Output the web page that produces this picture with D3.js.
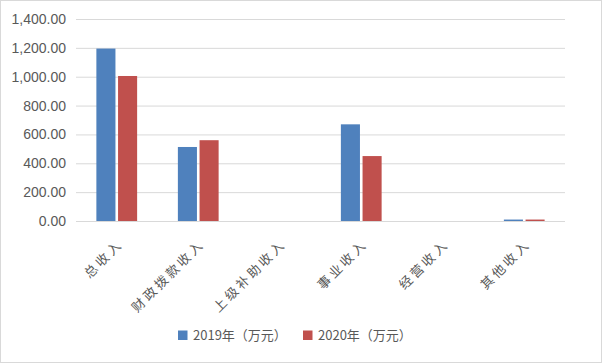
<!DOCTYPE html>
<html>
<head>
<meta charset="utf-8">
<script src="https://cdn.jsdelivr.net/npm/d3@7"></script>
<style>
  body { margin: 0; background: #fff; }
  svg { display: block; font-family: "Noto Sans CJK SC", "Microsoft YaHei", sans-serif; }
</style>
</head>
<body>
<div id="chart"></div>
<script>
const categories = ["总收入", "财政拨款收入", "上级补助收入", "事业收入", "经营收入", "其他收入"];
const seriesNames = ["2019年（万元）", "2020年（万元）"];
const values2019 = [1195, 513, 0, 670, 0, 10];
const values2020 = [1005, 560, 0, 450, 0, 10];
const yTicks = [0, 200, 400, 600, 800, 1000, 1200, 1400];

const width = 602, height = 363;
const margin = { left: 76, right: 37, top: 19, bottom: 142 };
const colors = ["#4f81bd", "#c0504d"];
const textColor = "#595959";

const svg = d3.select("#chart").append("svg")
    .attr("width", width)
    .attr("height", height);

// outer frame
svg.append("rect")
    .attr("x", 0.5).attr("y", 0.5)
    .attr("width", width - 1).attr("height", height - 1)
    .attr("fill", "#fff")
    .attr("stroke", "#d9d9d9");

const x = d3.scaleBand()
    .domain(categories)
    .range([margin.left, width - margin.right])
    .paddingInner(0.5)
    .paddingOuter(0.25);

const xs = d3.scaleBand()
    .domain(seriesNames)
    .range([0, x.bandwidth()])
    .paddingInner(0.12);

const y = d3.scaleLinear()
    .domain([0, 1400])
    .range([height - margin.bottom, margin.top]);

// gridlines + y labels
const yAxis = svg.append("g")
    .attr("transform", `translate(${margin.left},0)`)
    .call(d3.axisLeft(y)
        .tickValues(yTicks)
        .tickSize(-(width - margin.left - margin.right))
        .tickPadding(10)
        .tickFormat(d3.format(",.2f")));
yAxis.select(".domain").remove();
yAxis.selectAll(".tick line").attr("stroke", "#d9d9d9");
yAxis.selectAll(".tick text")
    .attr("fill", textColor)
    .attr("font-size", 14)
    .attr("font-family", "'Liberation Sans', Arial, sans-serif");

// bars
const series = [values2019, values2020];
const group = svg.append("g")
    .selectAll("g")
    .data(categories)
    .join("g")
    .attr("transform", d => `translate(${x(d)},0)`);

group.selectAll("rect")
    .data((d, i) => seriesNames.map((s, k) => ({ s, v: series[k][i], k })))
    .join("rect")
    .attr("x", d => xs(d.s))
    .attr("width", xs.bandwidth())
    .attr("y", d => y(d.v))
    .attr("height", d => y(0) - y(d.v))
    .attr("fill", d => colors[d.k]);

// rotated category labels
svg.append("g")
    .selectAll("text")
    .data(categories)
    .join("text")
    .attr("transform", d => `translate(${x(d) + x.bandwidth() / 2 + 7},${y(0) + 24}) rotate(-45)`)
    .attr("text-anchor", "end")
    .attr("fill", textColor)
    .attr("font-size", 13)
    .attr("letter-spacing", 3)
    .text(d => d);

// legend
const legend = svg.append("g").attr("transform", "translate(0,340)");
const items = legend.selectAll("g")
    .data(seriesNames)
    .join("g")
    .attr("transform", (d, i) => `translate(${178 + i * 125},0)`);
items.append("rect")
    .attr("x", 0).attr("y", -9.5)
    .attr("width", 9.5).attr("height", 9.5)
    .attr("fill", (d, i) => colors[i]);
items.append("text")
    .attr("x", 15).attr("y", 0)
    .attr("fill", textColor)
    .attr("font-size", 13)
    .text(d => d);
</script>
</body>
</html>
